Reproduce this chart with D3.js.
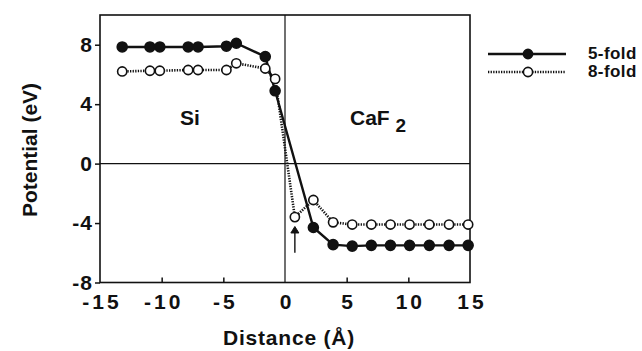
<!DOCTYPE html>
<html>
<head>
<meta charset="utf-8">
<script src="https://cdn.jsdelivr.net/npm/d3@7"></script>
<style>
	body { margin: 0; background: #fff; }
	text { font-family: "Liberation Sans", Arial, sans-serif; font-weight: bold; fill: #111; }
</style>
</head>
<body>
<svg id="chart" width="642" height="351"></svg>
<script>

// Data

var fiveFoldX = [-13.2, -10.95, -10.15, -7.85, -7.05, -4.75, -3.95, -1.6, -0.8, 2.3, 3.9, 5.45, 7.0, 8.55, 10.1, 11.7, 13.3, 14.85];
var fiveFoldY = [7.85, 7.85, 7.85, 7.85, 7.85, 7.9, 8.1, 7.2, 4.9, -4.3, -5.45, -5.55, -5.5, -5.5, -5.5, -5.5, -5.5, -5.5];

var eightFoldX = [-13.2, -10.95, -10.15, -7.85, -7.05, -4.75, -3.95, -1.6, -0.8, 0.8, 2.3, 3.9, 5.45, 7.0, 8.55, 10.1, 11.7, 13.3, 14.85];
var eightFoldY = [6.2, 6.25, 6.25, 6.3, 6.3, 6.3, 6.75, 6.4, 5.7, -3.6, -2.45, -3.95, -4.1, -4.1, -4.1, -4.1, -4.1, -4.1, -4.1];

var xTicks = [-15, -10, -5, 0, 5, 10, 15];
var yTicks = [-8, -4, 0, 4, 8];

var seriesNames = ["5-fold", "8-fold"];

function zip(xs, ys) {
	return xs.map(function (x, i) { return {x: x, y: ys[i]}; });
}

var series = [
	{name: seriesNames[0], points: zip(fiveFoldX, fiveFoldY), filled: true},
	{name: seriesNames[1], points: zip(eightFoldX, eightFoldY), filled: false}
];

// Layout

var svg = d3.select("#chart");

var x = d3.scaleLinear().domain([-15, 15]).range([100, 470]);
var y = d3.scaleLinear().domain([-8, 10]).range([282.5, 15]);

var plot = svg.append("g");

// zero lines
plot.append("line")
.attr("x1", x(-15)).attr("x2", x(15))
.attr("y1", y(0)).attr("y2", y(0))
.style("stroke", "#111").style("stroke-width", 1.2);

plot.append("line")
.attr("x1", x(0)).attr("x2", x(0))
.attr("y1", y(-8)).attr("y2", y(10))
.style("stroke", "#111").style("stroke-width", 1.2);

// frame
plot.append("rect")
.attr("x", x(-15)).attr("y", y(10))
.attr("width", x(15) - x(-15)).attr("height", y(-8) - y(10))
.style("fill", "none").style("stroke", "#111").style("stroke-width", 1.6);

// axes
var xAxis = d3.axisBottom(x).tickValues(xTicks).tickSizeInner(-5).tickSizeOuter(0).tickPadding(12);
var yAxis = d3.axisLeft(y).tickValues(yTicks).tickSize(5).tickPadding(2);

var gx = svg.append("g").attr("transform", "translate(0," + y(-8) + ")").call(xAxis);
var gy = svg.append("g").attr("transform", "translate(" + x(-15) + ",0)").call(yAxis);

[gx, gy].forEach(function (g) {
	g.select(".domain").remove();
	g.selectAll(".tick line").style("stroke", "#111").style("stroke-width", 1.5);
	g.selectAll(".tick text").style("font-size", "21px").style("font-family", "\"Liberation Sans\", Arial, sans-serif").style("font-weight", "bold").style("fill", "#111");
});
gx.selectAll(".tick text")
.attr("dy", "0.71em").attr("dx", 1.5)
.style("letter-spacing", "3px")
.text(function (d) { return d < 0 ? "-" + Math.abs(d) : d; });
gx.selectAll(".tick").filter(function (d) { return d == 0 || Math.abs(d) == 15; }).select("line").remove();
gy.selectAll(".tick text").style("letter-spacing", "1px").text(function (d) { return d < 0 ? "-" + Math.abs(d) : d; });

// series
var line = d3.line().x(function (d) { return x(d.x); }).y(function (d) { return y(d.y); });

series.slice().reverse().forEach(function (s) {
	plot.append("path")
	.datum(s.points)
	.attr("d", line)
	.style("fill", "none")
	.style("stroke", "#111")
	.style("stroke-width", s.filled ? 2.4 : 2.6)
	.style("stroke-dasharray", s.filled ? null : "1.3,1.3");
});

series.forEach(function (s) {
	plot.selectAll(null)
	.data(s.points)
	.enter().append("circle")
	.attr("cx", function (d) { return x(d.x); })
	.attr("cy", function (d) { return y(d.y); })
	.attr("r", s.filled ? 5 : 4.6)
	.style("fill", s.filled ? "#111" : "#fff")
	.style("stroke", "#111")
	.style("stroke-width", 1.6);
});

// arrow
var arrowX = x(eightFoldX[9]);
plot.append("line")
.attr("x1", arrowX).attr("x2", arrowX)
.attr("y1", y(-6.0)).attr("y2", y(-4.5))
.style("stroke", "#111").style("stroke-width", 1.4);
plot.append("path")
.attr("d", "M" + (arrowX - 4) + "," + (y(-4.6) + 1) + "L" + arrowX + "," + (y(-4.3) - 1) + "L" + (arrowX + 4) + "," + (y(-4.6) + 1) + "Z")
.style("fill", "#111").style("stroke", "#111").style("stroke-width", 1);

// region labels
svg.append("text").attr("x", 190).attr("y", 125).attr("text-anchor", "middle").style("font-size", "21px").text("Si");
var caf = svg.append("text").attr("x", 350).attr("y", 125).style("font-size", "21px");
caf.append("tspan").text("CaF ");
caf.append("tspan").attr("dy", 7).style("font-size", "19px").text("2");

// axis titles
svg.append("text")
.attr("x", x(0) + 4).attr("y", 345)
.attr("text-anchor", "middle")
.style("font-size", "21px")
.style("letter-spacing", "0.8px")
.text("Distance (Å)");

svg.append("text")
.attr("transform", "translate(37,150) rotate(-90)")
.attr("text-anchor", "middle")
.style("font-size", "21px")
.text("Potential (eV)");

// legend
var legend = svg.append("g").selectAll("g")
.data(series)
.enter().append("g")
.attr("transform", function (d, i) { return "translate(0," + (54 + i * 18) + ")"; });

legend.append("line")
.attr("x1", 488).attr("x2", 566)
.style("stroke", "#111")
.style("stroke-width", 2.4)
.style("stroke-dasharray", function (d) { return d.filled ? null : "1.3,1.3"; });

legend.append("circle")
.attr("cx", 528).attr("r", 4.6)
.style("fill", function (d) { return d.filled ? "#111" : "#fff"; })
.style("stroke", "#111").style("stroke-width", 1.6);

legend.append("text")
.attr("x", 588).attr("y", 5)
.style("font-size", "17px")
.style("letter-spacing", "0.4px")
.text(function (d) { return d.name; });

</script>
</body>
</html>
